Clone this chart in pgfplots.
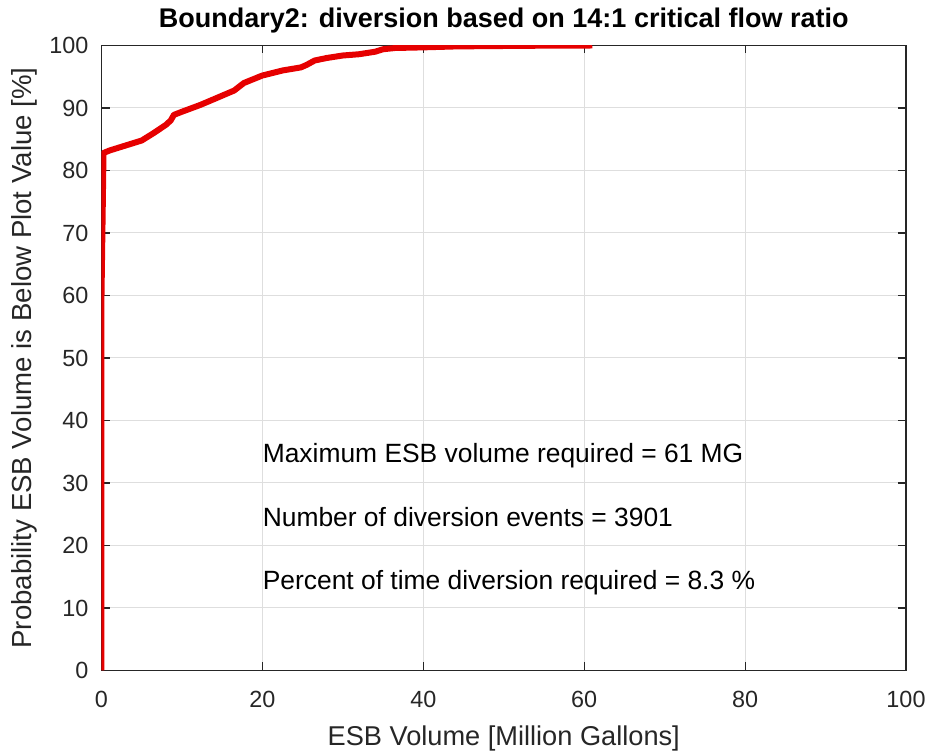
\documentclass[border=0pt]{standalone}
\usepackage{pgfplots}
\pgfplotsset{compat=1.18}
\usepackage{fontspec}
\setmainfont{Liberation Sans}
\definecolor{axgray}{RGB}{38,38,38}
\definecolor{gridgray}{RGB}{222,222,222}
\definecolor{curvered}{RGB}{230,0,0}
\begin{document}
\begin{tikzpicture}
\useasboundingbox (-50.75pt,-42.25pt) rectangle (412.75pt,335.25pt);
\begin{axis}[
  scale only axis,
  width=402.25pt, height=312.5pt,
  xmin=0, xmax=100, ymin=0, ymax=100,
  xtick={0,20,40,60,80,100},
  ytick={0,10,20,30,40,50,60,70,80,90,100},
  grid=major,
  major grid style={gridgray, line width=0.5pt},
  axis line style={axgray, line width=0.6pt},
  tick style={axgray, line width=0.6pt},
  tick align=inside,
  major tick length=4pt,
  xtick pos=both, ytick pos=both,
  xticklabel pos=lower, yticklabel pos=left,
  /pgf/number format/assume math mode=true,
  ticklabel style={font=\fontsize{11.7}{13}\selectfont, text=axgray},
  xticklabel style={yshift=-7pt},
  yticklabel style={xshift=-3pt},
  xlabel={ESB Volume [Million Gallons]},
  ylabel={Probability ESB Volume is Below Plot Value [\%]},
  xlabel style={font=\fontsize{13.6}{15}\selectfont, text=axgray, at={(axis description cs:0.5,0)}, anchor=north, yshift=-24pt},
  ylabel style={font=\fontsize{13.8}{16}\selectfont, text=axgray, at={(axis description cs:-0.0864,0.5)}, anchor=base, rotate=0},
  title={Boundary2: diversion based on 14:1 critical flow ratio},
  title style={font=\fontsize{13.5}{15}\selectfont\bfseries, text=black, at={(axis description cs:0.5,1)}, anchor=base, yshift=2.75pt},
]
\addplot[curvered, line width=3pt, line join=round] coordinates {
(0,0) (0,60) (0.25,82.8) (1,83.2) (3,84.0) (5,84.8) (6.5,86.0) (8,87.3)
(8.6,88.0) (9.0,88.9) (10,89.4) (12.3,90.5) (14.5,91.7) (16.5,92.8)
(17.2,93.5) (17.7,94.0) (20,95.2) (22.5,96.0) (24.8,96.5) (25.5,96.9)
(26.5,97.6) (28,98.0) (30,98.4) (32,98.6) (34,99.0) (35,99.4) (36.5,99.6)
(40,99.7) (44,99.85) (48,99.9) (55,99.97) (61,100)
};
\node[anchor=base west, inner sep=0pt, font=\fontsize{13.2}{15}\selectfont, text=black] at (axis cs:20,33.2) {Maximum ESB volume required = 61 MG};
\node[anchor=base west, inner sep=0pt, font=\fontsize{13.2}{15}\selectfont, text=black] at (axis cs:20,23.0) {Number of diversion events = 3901};
\node[anchor=base west, inner sep=0pt, font=\fontsize{13.2}{15}\selectfont, text=black] at (axis cs:20,12.9) {Percent of time diversion required = 8.3 \%};
\end{axis}
\end{tikzpicture}
\end{document}
